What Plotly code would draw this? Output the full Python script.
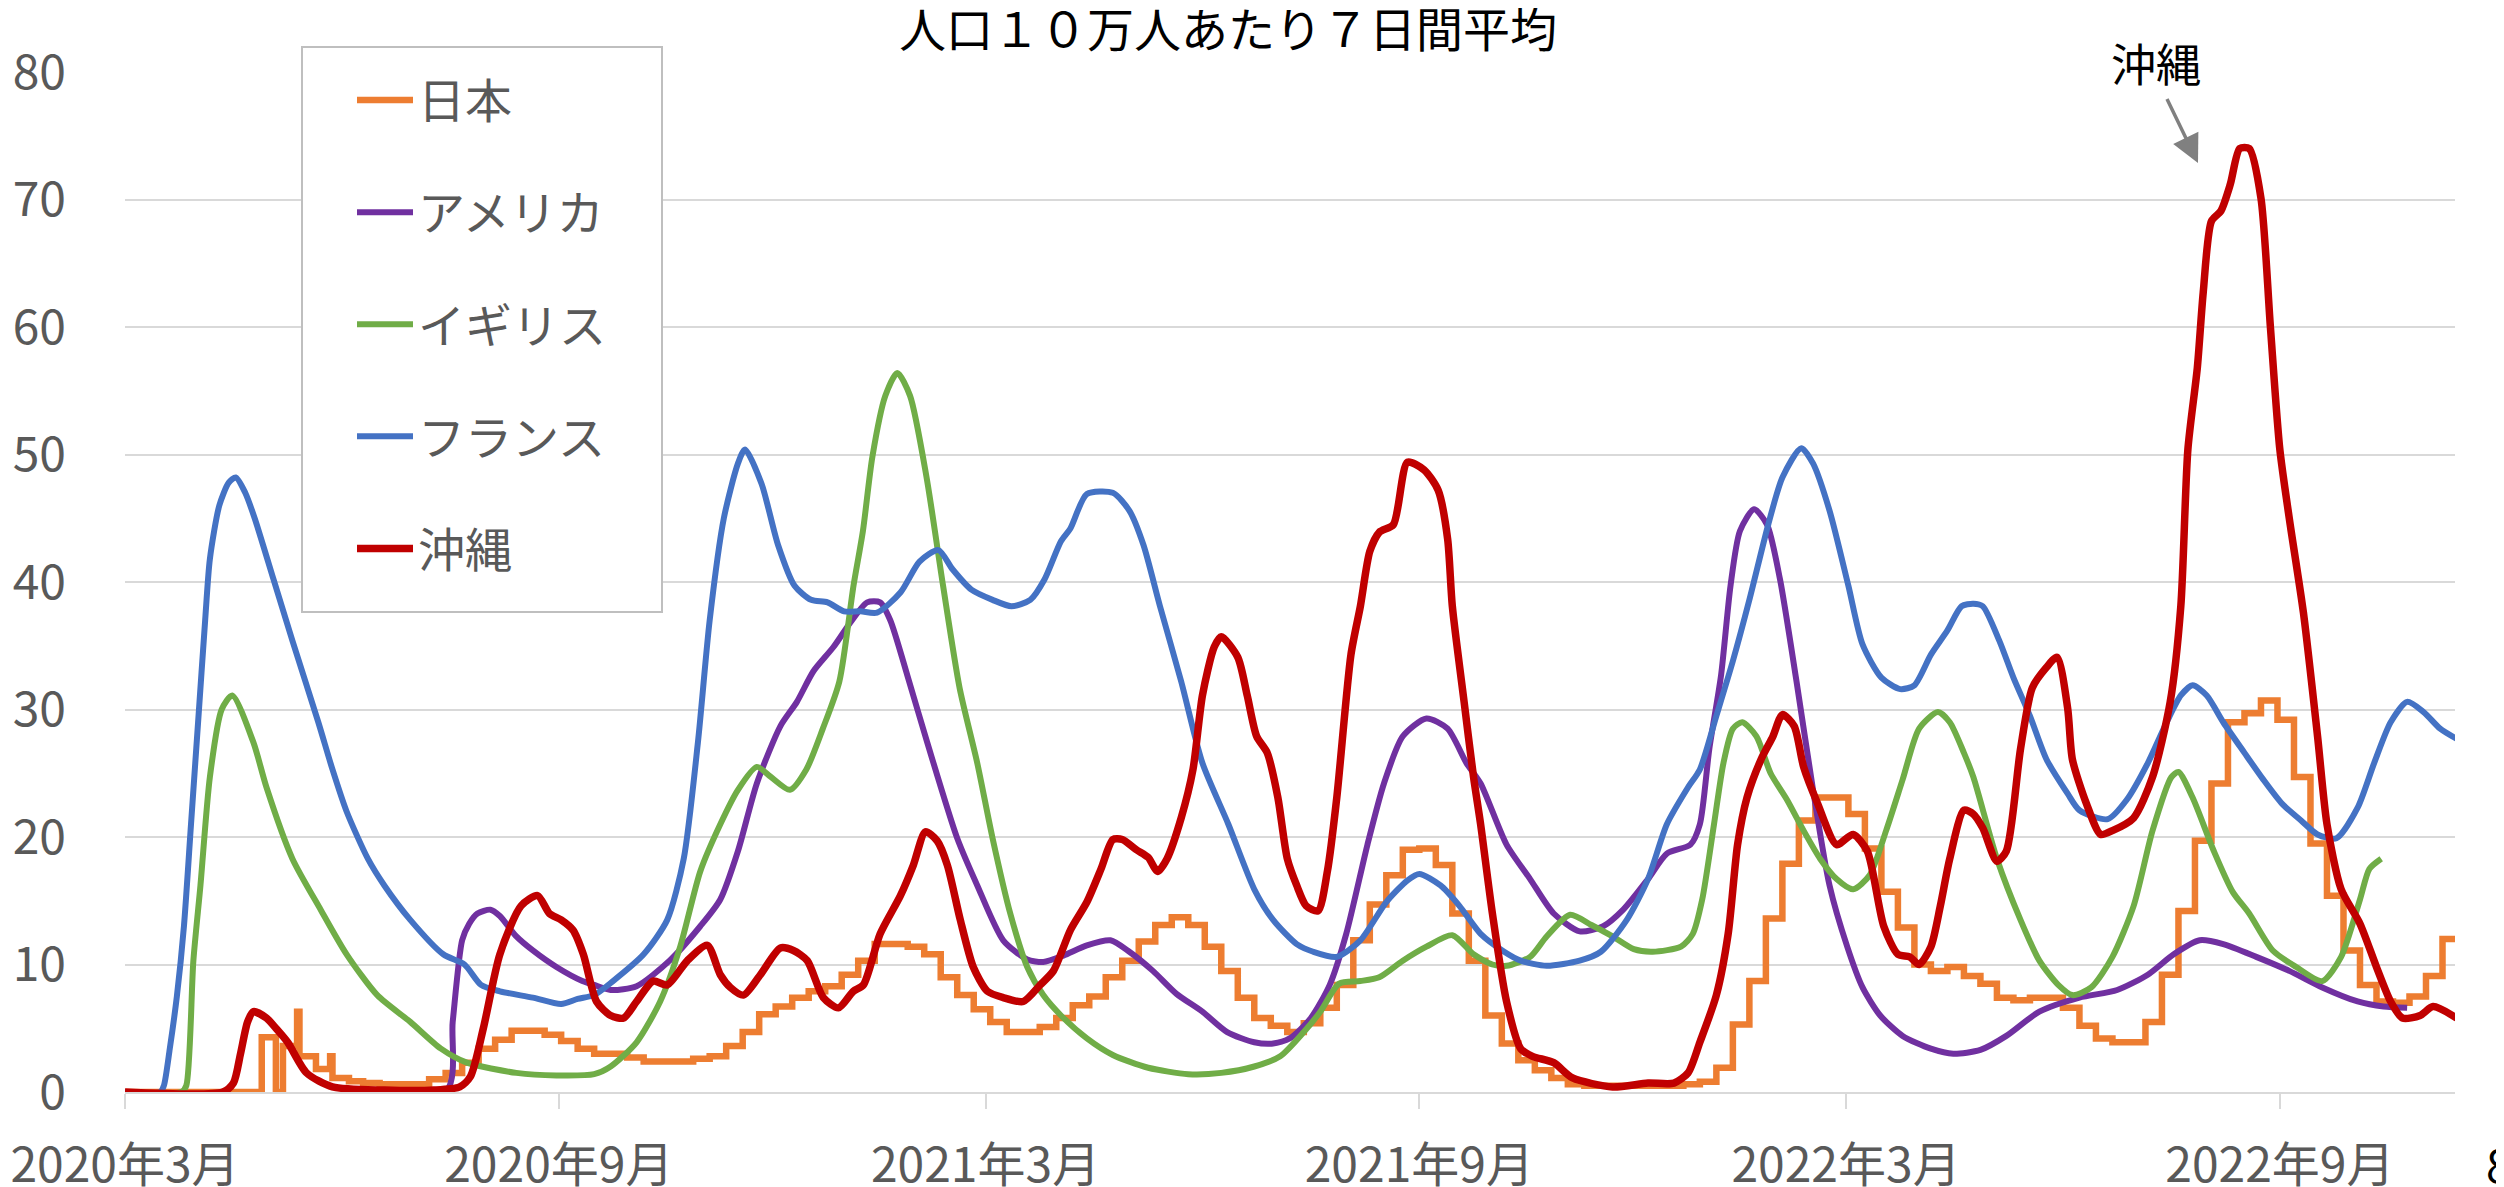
import pandas as pd
import plotly.graph_objects as go

FONT = "Noto Sans CJK JP"
BASE = pd.Timestamp("2020-03-01")

# ---------------- data (days since 2020-03-01, value per 100k, 7-day avg) -------------
# Japan: irregular early points, then weekly step values
jp_early_days = [0, 58, 64, 67, 73, 74, 81, 87, 88, 95]
jp_early_vals = [0, 4.3, 0, 3.6, 6.3, 2.8, 1.8, 2.8, 1.1, 0.85]
jp_weekly_start = "2020-06-10"
jp_weekly_vals = [
    0.7, 0.6, 0.6, 0.6, 1.0, 1.5, 2.3, 3.4, 4.1, 4.8, 4.8, 4.5, 4.0, 3.4, 3.0, 3.0,
    2.7, 2.4, 2.4, 2.4, 2.6, 2.8, 3.6, 4.7, 6.1, 6.7, 7.4, 7.9, 8.3, 9.2, 10.3, 11.6,
    11.6, 11.4, 10.8, 9.0, 7.6, 6.5, 5.5, 4.7, 4.7, 5.1, 5.8, 6.8, 7.5, 9.0, 10.3, 11.8,
    13.1, 13.7, 13.1, 11.4, 9.5, 7.4, 5.8, 5.2, 4.7, 5.4, 6.6, 8.4, 11.9, 14.7, 17.0, 19.0,
    19.1, 17.8, 14.0, 10.3, 6.0, 3.8, 2.5, 1.7, 1.1, 0.6, 0.5, 0.5, 0.5, 0.5, 0.5, 0.5,
    0.6, 0.8, 1.9, 5.3, 8.7, 13.6, 17.9, 21.3, 23.1, 23.1, 21.8, 19.1, 15.7, 12.9, 10.0, 9.5,
    9.8, 9.1, 8.5, 7.4, 7.2, 7.4, 7.4, 6.6, 5.2, 4.2, 3.9, 3.9, 5.5, 9.2, 14.2, 19.7,
    24.2, 29.0, 29.7, 30.7, 29.2, 24.7, 19.5, 15.4, 11.1, 8.4, 7.1, 7.0, 7.5, 9.1, 12.0, 14.6,
]

us_days = [0, 136, 139, 143, 146, 149.5, 155, 159, 166, 173, 183, 194, 199, 206, 217, 231, 244,
           252.5, 260, 268, 278, 285, 292, 300.5, 307.6, 314.8, 320.3, 324.6, 331.8, 340.3, 353,
           361.5, 372.5, 382.7, 389.5, 398, 408, 418, 426, 436, 446, 457, 467.5, 479, 487, 494,
           503, 511, 518, 527, 534, 542, 552, 561, 569, 575, 586, 596, 606, 617, 627, 635.5, 646,
           654, 664, 668, 672, 677, 681, 685, 691, 696.5, 702, 709, 716, 723, 730.5, 737, 744.5,
           754, 766, 775.5, 787, 798, 812, 829, 845, 858, 869, 880, 890, 904, 918, 932, 947, 958, 968]
us_vals = [0, 0, 5.5, 11.9, 13.2, 14, 14.3, 13.8, 12.2, 11.1, 9.8, 8.7, 8.4, 8, 8.3, 10.3, 13,
           15.1, 18.9, 24.2, 28.7, 30.6, 33, 34.9, 36.8, 38.4, 38.4, 37, 32.7, 27.4, 19.9,
           16.2, 11.9, 10.4, 10.2, 10.7, 11.5, 11.9, 11, 9.5, 7.7, 6.3, 4.7, 3.9, 3.8, 4.2,
           5.8, 8.4, 12.4, 19.4, 24.2, 27.9, 29.3, 28.5, 25.8, 24.2, 19.4, 16.7, 14, 12.6, 13, 14.3, 16.7,
           18.7, 19.4, 21, 26.9, 32.7, 39.7, 44, 45.7, 44.5, 40.2, 32.2, 23.7, 16.2, 11.4, 8.2, 6,
           4.4, 3.4, 3, 3.3, 4.4, 6.3, 7.4, 8, 9.2, 10.8, 11.9, 11.6, 10.6, 9.5, 8.2, 7.1, 6.7, 6.6]

uk_days = [0, 24, 26, 29, 32, 36, 41, 45.5, 54.5, 60, 71, 83, 94, 107, 121, 134, 145, 166, 183,
           199, 206, 217, 227, 235.5, 244, 252.5, 260, 268, 274, 282, 289, 296, 303, 309, 313, 317,
           322.5, 327.6, 333, 340, 347, 354, 361.5, 368, 375.5, 382.7, 389.5, 397, 408, 419, 434,
           451, 465, 479, 490, 500, 507, 515, 524, 532, 542, 552, 563, 572, 580, 586, 596, 603, 613,
           622, 631, 640, 648, 660, 665, 669, 674, 678, 682, 686, 692, 698, 705, 712, 719, 726, 733,
           740, 747, 754, 761, 769, 774, 780, 784, 794, 804, 812, 820, 826, 834, 843, 852, 860, 868,
           871, 877, 886, 894, 901, 911, 921, 932, 940, 948, 952, 957]
uk_vals = [0, 0, 0.5, 10.3, 16.2, 24.7, 30, 31.1, 27.4, 23.9, 18.3, 14.3, 10.8, 7.6, 5.5, 3.4, 2.3, 1.5, 1.3,
           1.4, 2, 3.9, 7.1, 11.4, 17.3, 21, 23.7, 25.5, 24.7, 23.7, 25.3, 28.5, 32.2, 39.7, 44, 49.8,
           54.6, 56.4, 54.6, 48.2, 39.7, 31.7, 25.8, 19.9, 14, 9.8, 7.6, 6, 4.2, 2.9, 1.9,
           1.4, 1.5, 2, 2.8, 4.7, 6.3, 8.5, 8.7, 9, 10.3, 11.4, 12.3, 10.8, 10, 9.9, 10.6, 12.2, 13.9,
           13.1, 12.2, 11.2, 11, 11.4, 12.4, 15.1, 21, 25.8, 28.5, 29, 27.9, 25, 22.9, 20.5, 18.3, 16.7, 15.9,
           17, 20.5, 24.5, 28.5, 29.8, 29, 26.6, 24.7, 18.3, 13.5, 10.3, 8.4, 7.6, 8.2, 10.6, 14.6, 20.5, 24.7,
           25.1, 23.1, 18.9, 15.7, 14, 11.1, 9.8, 8.7, 10.6, 15.1, 17.5, 18.3]

fr_days = [0, 15, 16.5, 19, 22, 25, 28, 31, 34, 36, 40, 44, 47, 51, 55, 63, 71, 82, 88, 94, 103, 110,
           121, 135, 144, 151, 159, 173, 185, 192, 199, 207, 220, 230, 237, 243, 248, 254, 260, 263,
           270, 277, 284, 291, 298, 305, 312, 319, 329, 337, 345, 351, 359, 368, 376, 384, 390, 397,
           401, 408, 419, 426, 432, 439, 448, 457, 468, 479, 487, 497, 504, 514, 524, 535, 544, 549,
           558, 566, 575, 585, 592, 603, 617, 626, 637, 646, 654, 663, 668, 675, 682, 689, 697, 703,
           711, 716, 723, 731, 737, 745, 753, 759, 766, 773, 779, 784, 788, 795, 801, 808, 815, 824,
           829, 841, 849, 858, 866, 872, 877, 883, 890, 899, 907, 915, 923, 930, 938, 947, 954, 961,
           968, 975, 982, 989]
fr_vals = [0, 0, 0.5, 3.4, 7.5, 13, 21, 29, 37, 41.8, 46, 47.8, 48.2, 47, 45, 40.2, 35.4, 29, 25.3, 22, 18.3, 16.2,
           13.5, 10.8, 10, 8.4, 7.9, 7.4, 6.9, 7.3, 7.6, 8.7, 10.8, 13.5, 18.3, 27.4, 37, 45, 49.3, 50.4,
           47.7, 42.9, 39.7, 38.6, 38.4, 37.7, 37.7, 37.6, 39.2, 41.6, 42.5, 41, 39.4, 38.6, 38.1, 38.6, 40.2, 43.2,
           44.2, 46.9, 47, 45.6, 42.9, 38.1, 32.2, 25.8, 21, 15.9, 13.5, 11.6, 11, 10.6, 11.9, 14.9, 16.6, 17.1,
           16.2, 14.6, 12.4, 11, 10.3, 9.9, 10.3, 11, 13.5, 16.7, 21, 23.9, 25.3, 29.5, 33.8, 38.6, 44.5, 48.2,
           50.5, 49.3, 45.6, 39.7, 35.1, 32.5, 31.6, 31.9, 34.3, 36.2, 38.1, 38.3, 38.1, 35.4, 32.5, 29.5, 26.1, 23.4,
           22.1, 21.4, 22.9, 25.8, 29, 31.1, 31.9, 31.1, 29, 26.6, 24.5, 22.6, 21.3, 20.2, 19.9, 22.3, 25.8, 29,
           30.6, 29.8, 28.5, 27.7]

ok_days = [0, 41.5, 46, 49, 52, 54.5, 60, 64, 69, 77, 88, 110, 131, 142, 146.5, 152, 159, 168, 175, 180,
           185, 190, 194.4, 200, 206, 211.5, 217, 224, 230, 238.5, 247, 252.5, 256.8, 262.3, 269.5, 278,
           283.5, 289.4, 296.2, 302.6, 308.9, 313.2, 320.3, 328.9, 334.4, 339.5, 344.5, 348.8, 354.3,
           359.8, 365.8, 372.5, 381, 388.2, 393.8, 401, 408, 414, 419, 423, 429, 434, 438, 442, 448, 453,
           457, 462, 465, 472, 476, 480, 484.5, 489, 493, 497, 501, 506, 510, 514, 520, 524, 528, 532,
           538, 544, 551, 557, 561, 563, 568, 572, 575, 580, 586, 592, 597, 606, 614, 631, 646, 657,
           663, 668, 675, 680, 684, 688, 694, 699, 703, 708, 712, 718, 726, 733, 739, 746, 752, 757,
           761, 766, 770, 774, 780, 784, 788, 794, 798, 804, 809, 815, 819.5, 824, 826, 832, 838, 843,
           852, 860, 867.5, 872, 875, 879, 881.5, 885, 889, 893, 897, 901, 906, 910, 914, 918, 924,
           930, 934, 940, 948, 955, 961, 966, 973.5, 979, 989]
ok_vals = [0, 0, 0.7, 3, 5.5, 6.3, 5.8, 5, 3.9, 1.5, 0.4, 0.15, 0.15, 0.4, 1.2, 5, 10.8, 14.6, 15.4, 14,
           13.5, 12.7, 10.8, 7.1, 6, 5.8, 7.1, 8.7, 8.4, 10.3, 11.5, 9.2, 8.2, 7.6, 9.2, 11.3,
           11.1, 10.3, 7.4, 6.6, 7.9, 8.4, 12.4, 15.4, 17.8, 20.4, 19.7, 17.8, 13.5,
           9.8, 7.9, 7.4, 7.1, 8.4, 9.5, 12.7, 14.9, 17.5, 19.8, 19.8, 19, 18.4, 17.3, 18.3, 21.5, 25.3,
           31.1, 34.9, 35.7, 34.1, 31.1, 27.9, 26.6, 23.1, 18.3, 16.2, 14.6, 14.2, 17.3, 23.1, 34.3, 38.1, 42.4, 43.9,
           44.5, 49.4, 48.8, 47.2, 43.4, 38.1, 30.6, 24.7, 21, 14, 7.1, 3.4, 2.8, 2.3, 1.1, 0.4, 0.7, 0.7,
           1.5, 3.9, 7.6, 12.4, 19.4, 23.1, 26.1, 27.9, 29.6, 28.7, 25.5, 22.6, 19.4, 20.2, 18.9, 13, 10.8, 10.6,
           10, 11.4, 14.6, 18.3, 22.1, 21.8, 20.7, 18.1, 18.9, 26.9, 31.7, 33.3, 34.1, 30.1, 26.1, 22.6, 20.2, 20.5,
           21.5, 24.7, 30.6, 38.1, 50.4, 56.8, 62.7, 68.3, 69.1, 71.2, 74, 74, 70.1, 60, 50.4, 45, 37.6,
           27.9, 21, 15.9, 13.2, 9.8, 7.1, 5.8, 6, 6.7, 5.8]

series_names = ["日本", "アメリカ", "イギリス", "フランス", "沖縄"]
series_colors = ["#ED7D31", "#7030A0", "#70AD47", "#4472C4", "#C00000"]
series_widths = [6.5, 6, 6, 6, 7.5]

tick_dates = ["2020-03-01", "2020-09-01", "2021-03-01", "2021-09-01", "2022-03-01", "2022-09-01"]
tick_labels = ["2020年3月", "2020年9月", "2021年3月", "2021年9月", "2022年3月", "2022年9月"]
x_end_day = 988.3

title_text = "人口１０万人あたり７日間平均"


def to_dates(days):
    return [BASE + pd.Timedelta(days=float(d)) for d in days]


jp_x = to_dates(jp_early_days) + list(pd.date_range(jp_weekly_start, periods=len(jp_weekly_vals), freq="7D"))
jp_y = jp_early_vals + jp_weekly_vals

data = [
    (jp_x, jp_y, "hv"),
    (to_dates(us_days), us_vals, "spline"),
    (to_dates(uk_days), uk_vals, "spline"),
    (to_dates(fr_days), fr_vals, "spline"),
    (to_dates(ok_days), ok_vals, "spline"),
]

fig = go.Figure()
for (xs, ys, shape), name, col, w in zip(data, series_names, series_colors, series_widths):
    line = dict(color=col, width=w, shape=shape)
    if shape == "spline":
        line["smoothing"] = 0.7
    fig.add_trace(go.Scatter(x=xs, y=ys, mode="lines", name=name, line=line,
                             legendgroup=name, hoverinfo="skip"))

# The page body has an 8px margin: figure coordinates = screen coordinates - 8
OFF = 8
W, H = 2504 - OFF, 1187 - OFF
L, T = 125 - OFF, 72 - OFF
R = W - (2455 - OFF)
B = H - (1092 - OFF)
pw, ph = W - L - R, H - T - B


def px_x(s):
    return (s - OFF - L) / pw


def px_y(s):
    return (H - B - (s - OFF)) / ph


fig.update_layout(
    width=W, height=H,
    margin=dict(l=L, r=R, t=T, b=B, pad=0, autoexpand=False),
    paper_bgcolor="white", plot_bgcolor="white",
    font=dict(family=FONT, color="#595959"),
    title=dict(text=title_text, x=(1228 - OFF) / W, y=1 - (31 - OFF) / H,
               xanchor="center", yanchor="middle", xref="container", yref="container",
               font=dict(family=FONT, size=47, color="#000000")),
    showlegend=True,
    legend=dict(
        x=px_x(352), y=px_y(63), xanchor="left", yanchor="top",
        bgcolor="rgba(0,0,0,0)", borderwidth=0,
        font=dict(family=FONT, size=47, color="#595959"),
        tracegroupgap=48, itemwidth=56, traceorder="grouped",
    ),
    xaxis=dict(
        type="date", automargin=False,
        range=[BASE, BASE + pd.Timedelta(days=x_end_day)],
        tickvals=tick_dates, ticktext=tick_labels,
        ticks="outside", ticklen=15, tickwidth=2, tickcolor="#d9d9d9",
        showline=True, linecolor="#d9d9d9", linewidth=2,
        showgrid=False, zeroline=False,
        tickfont=dict(family=FONT, size=48, color="#595959"),
        ticklabelstandoff=15, ticklabeloverflow="allow",
    ),
    yaxis=dict(
        range=[0, 80], dtick=10, tick0=0, automargin=False,
        showgrid=True, gridcolor="#d9d9d9", gridwidth=2,
        zeroline=False, showline=False, ticks="",
        tickfont=dict(family=FONT, size=48, color="#595959"),
        ticklabelstandoff=58,
    ),
    shapes=[
        dict(type="rect", xref="paper", yref="paper",
             x0=px_x(302), x1=px_x(662), y0=px_y(612), y1=px_y(47),
             fillcolor="white", line=dict(color="#bfbfbf", width=2), layer="above"),
    ],
    annotations=[
        dict(text="沖縄", xref="paper", yref="paper", x=px_x(2156), y=px_y(62),
             xanchor="center", yanchor="middle", showarrow=False,
             font=dict(family=FONT, size=45, color="#000000"),
             bgcolor="white", borderpad=18),
        dict(text="", xref="paper", yref="paper", x=px_x(2198), y=px_y(163),
             ax=-31, ay=-64, showarrow=True, arrowhead=2, arrowsize=1.6,
             arrowwidth=3.5, arrowcolor="#808080", standoff=0, startstandoff=0,
             font=dict(size=1), borderpad=0, borderwidth=0),
        dict(text="8", xref="paper", yref="paper", x=px_x(2484), y=px_y(1163),
             xanchor="left", yanchor="middle", showarrow=False,
             font=dict(family=FONT, size=46, color="#000000")),
    ],
)

fig.write_html("out.html")
